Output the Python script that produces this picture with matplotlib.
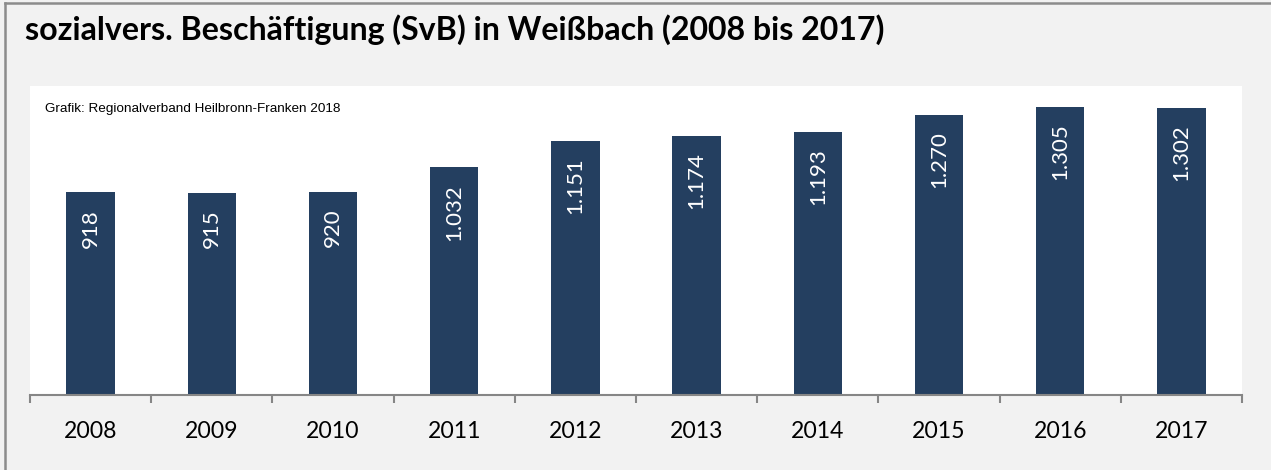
"""
Sozialversicherungspflichtig Beschaeftigte in Weissbach, 2008 bis 2017.
"""

import matplotlib.pyplot as plt
from matplotlib.lines import Line2D

years: list[str] = ["2008", "2009", "2010", "2011", "2012",
                    "2013", "2014", "2015", "2016", "2017"]
svb: list[int] = [918, 915, 920, 1032, 1151, 1174, 1193, 1270, 1305, 1302]

bar_color = "#243F60"
bg_color = "#F2F2F2"


def fmt_de(v: int) -> str:
    # German thousands separator
    return f"{v:,}".replace(",", ".")


fig = plt.figure(figsize=(12.71, 4.70), dpi=100, facecolor=bg_color)

# white plot area: x 30..1242 px, y 86..395 px
ax = fig.add_axes([30 / 1271, 75 / 470, 1212 / 1271, 309 / 470])
ax.set_facecolor("white")

x = list(range(len(years)))
bars = ax.bar(x, svb, width=0.40, color=bar_color, zorder=2)

for b, v in zip(bars, svb):
    ax.annotate(fmt_de(v), (b.get_x() + b.get_width() / 2, b.get_height()),
                xytext=(0, -12), textcoords="offset points",
                rotation=90, ha="center", va="top",
                color="white", fontsize=16, family="Lato")

ax.set_xlim(-0.5, len(years) - 0.5)
ax.set_ylim(0, 1400)
ax.set_yticks([])

# tick marks between categories, labels centred under bars
ax.set_xticks([i - 0.5 for i in range(len(years) + 1)])
ax.set_xticklabels([])
ax.tick_params(axis="x", which="major", direction="out", length=6,
               width=1.5, color="#868686")
ax.set_xticks(x, minor=True)
ax.set_xticklabels(years, minor=True, fontsize=16.6, family="Lato")
ax.tick_params(axis="x", which="minor", length=0, pad=19)

for s in ["top", "right", "left"]:
    ax.spines[s].set_visible(False)
ax.spines["bottom"].set_color("#868686")
ax.spines["bottom"].set_linewidth(1.5)

fig.text(25 / 1271, 1 - 40 / 470,
         "sozialvers. Beschäftigung (SvB) in Weißbach (2008 bis 2017)",
         fontsize=23.1, fontweight="bold", family="Lato", ha="left",
         va="baseline")
fig.text(45 / 1271, 1 - 112 / 470,
         "Grafik: Regionalverband Heilbronn-Franken 2018",
         fontsize=9.7, family="Liberation Sans", ha="left", va="baseline")

# frame lines at top and left of the picture
fig.add_artist(Line2D([4.5 / 1271, 4.5 / 1271], [0, 1 - 3 / 470],
                      transform=fig.transFigure, color="#8C8C8C", lw=1.8))
fig.add_artist(Line2D([4.5 / 1271, 1], [1 - 3 / 470, 1 - 3 / 470],
                      transform=fig.transFigure, color="#8C8C8C", lw=1.8))

fig.savefig("out.png", dpi=100, facecolor=bg_color)
